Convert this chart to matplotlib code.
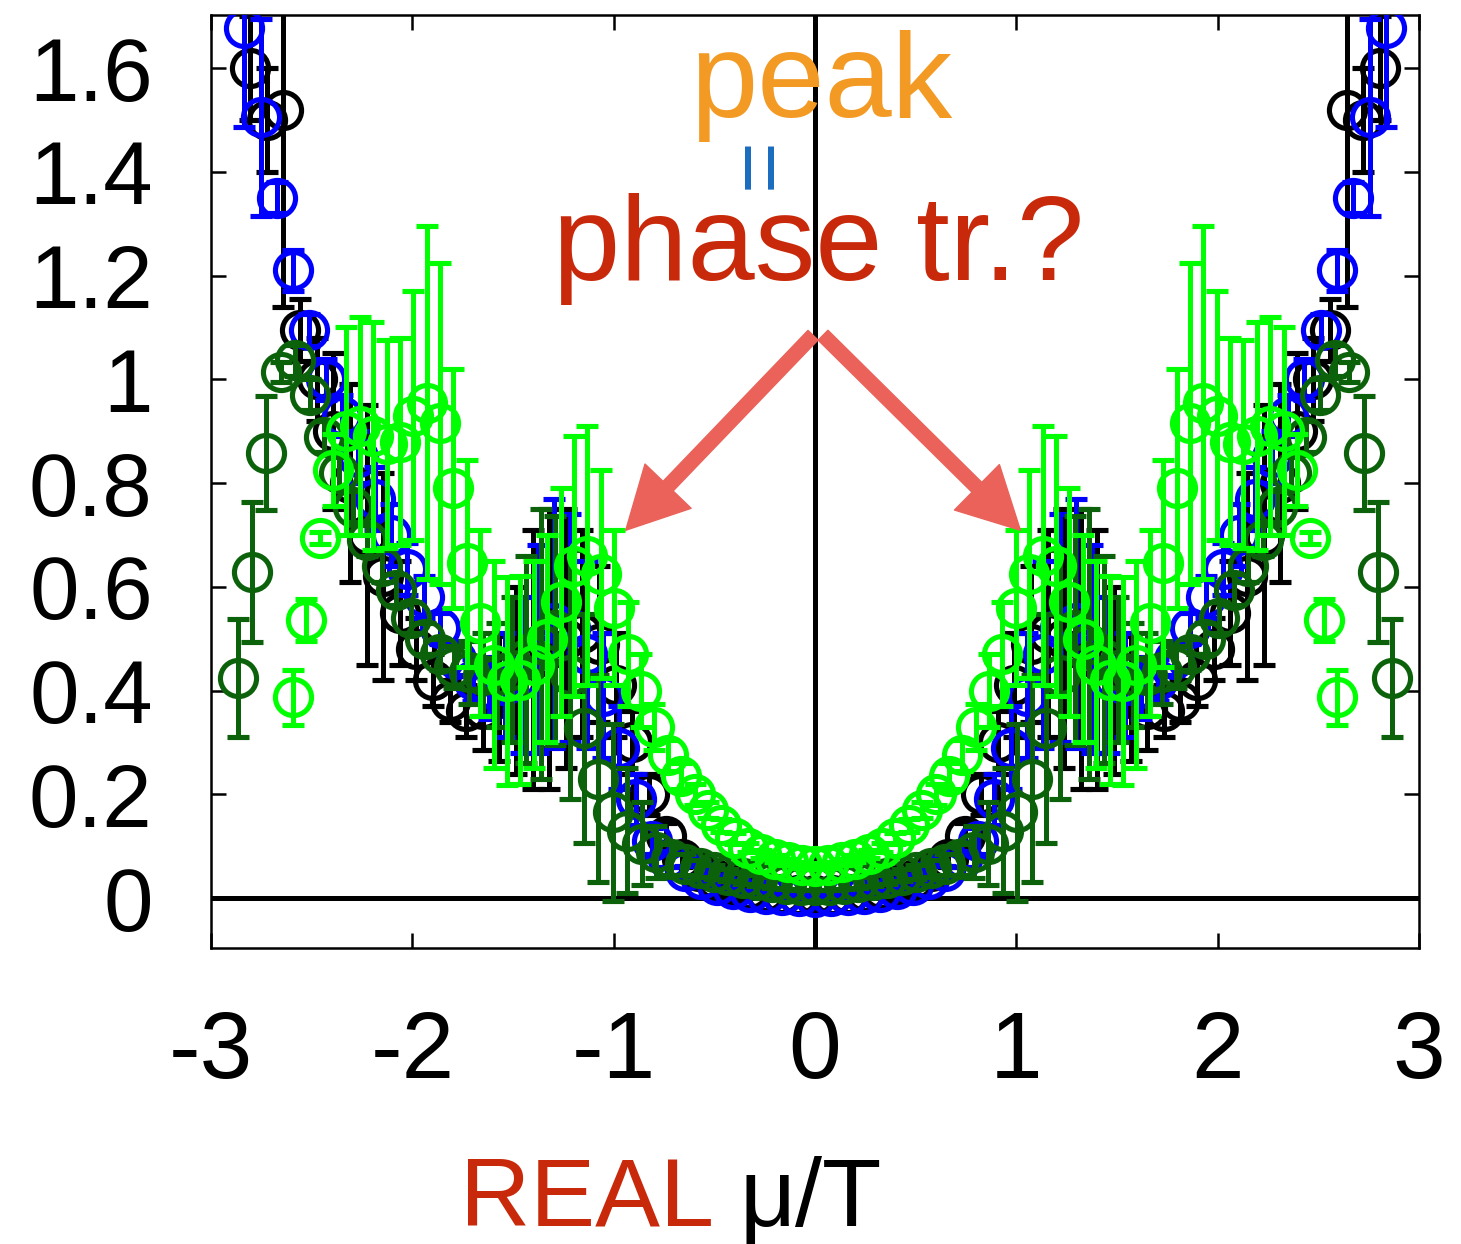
import numpy as np
import matplotlib.pyplot as plt

plt.rcParams['font.family'] = ['Liberation Sans', 'DejaVu Sans']

# mu/T grid spacing of each ensemble (positive half only, curves are even in mu)
black_step = 0.0825
blue_step = 0.081
dkgreen_step = 0.0717
green_step = 0.0665

black_y = [0.005, 0.006, 0.008, 0.012, 0.018, 0.026, 0.037, 0.052, 0.075, 0.12,
           0.20, 0.30, 0.41, 0.49, 0.51, 0.50, 0.48, 0.46, 0.42, 0.385,
           0.365, 0.36, 0.38, 0.42, 0.48, 0.55, 0.62, 0.70, 0.80, 0.90,
           1.0, 1.095, 1.52, 1.50, 1.60]
black_err = [0.004, 0.004, 0.005, 0.005, 0.006, 0.007, 0.008, 0.01, 0.015, 0.025,
             0.04, 0.06, 0.1, 0.15, 0.2, 0.25, 0.27, 0.25, 0.18, 0.12,
             0.08, 0.05, 0.04, 0.05, 0.06, 0.1, 0.2, 0.25, 0.19, 0.15,
             0.08, 0.06, 0.38, 0.1, 0.1]

blue_y = [0.002, 0.003, 0.005, 0.008, 0.012, 0.018, 0.026, 0.037, 0.052, 0.075,
          0.11, 0.19, 0.29, 0.39, 0.47, 0.52, 0.53, 0.48, 0.43, 0.41,
          0.405, 0.42, 0.46, 0.52, 0.58, 0.635, 0.70, 0.77, 0.85, 0.93,
          1.0, 1.095, 1.21, 1.35, 1.505, 1.677]
blue_err = [0.003, 0.003, 0.003, 0.004, 0.004, 0.005, 0.006, 0.008, 0.01, 0.015,
            0.025, 0.05, 0.08, 0.12, 0.18, 0.22, 0.24, 0.2, 0.15, 0.1,
            0.06, 0.04, 0.03, 0.03, 0.04, 0.05, 0.06, 0.06, 0.05, 0.04,
            0.04, 0.03, 0.04, 0.03, 0.19, 0.19]

dkgreen_y = [0.025, 0.026, 0.027, 0.03, 0.034, 0.038, 0.044, 0.05, 0.057, 0.065,
             0.075, 0.088, 0.105, 0.13, 0.165, 0.23, 0.327, 0.43, 0.516, 0.49,
             0.46, 0.44, 0.43, 0.43, 0.435, 0.445, 0.47, 0.50, 0.54, 0.594,
             0.64, 0.69, 0.754, 0.82, 0.889, 0.97, 1.037, 1.014, 0.858, 0.628,
             0.424]
dkgreen_err = [0.01, 0.01, 0.01, 0.01, 0.01, 0.01, 0.012, 0.014, 0.016, 0.02,
               0.03, 0.05, 0.08, 0.12, 0.17, 0.2, 0.22, 0.24, 0.22, 0.26,
               0.2, 0.14, 0.1, 0.08, 0.06, 0.04, 0.03, 0.03, 0.03, 0.03,
               0.03, 0.03, 0.03, 0.03, 0.03, 0.03, 0.03, 0.02, 0.11, 0.135,
               0.113]

green_y = [0.062, 0.064, 0.069, 0.076, 0.085, 0.097, 0.115, 0.14, 0.17, 0.20,
           0.235, 0.275, 0.33, 0.40, 0.47, 0.56, 0.625, 0.66, 0.64, 0.57,
           0.50, 0.45, 0.42, 0.418, 0.45, 0.53, 0.645, 0.79, 0.915, 0.955,
           0.93, 0.88, 0.875, 0.89, 0.91, 0.90, 0.825, 0.694, 0.536, 0.387]
green_err = [0.006, 0.006, 0.006, 0.007, 0.008, 0.009, 0.01, 0.012, 0.015, 0.02,
             0.025, 0.03, 0.045, 0.07, 0.1, 0.15, 0.2, 0.25, 0.25, 0.22,
             0.2, 0.2, 0.2, 0.2, 0.2, 0.18, 0.2, 0.23, 0.31, 0.34,
             0.24, 0.2, 0.2, 0.22, 0.21, 0.2, 0.07, 0.012, 0.04, 0.053]

yticks = [0, 0.2, 0.4, 0.6, 0.8, 1.0, 1.2, 1.4, 1.6]
ytick_labels = ['0', '0.2', '0.4', '0.6', '0.8', '1', '1.2', '1.4', '1.6']
xticks = [-3, -2, -1, 0, 1, 2, 3]
xtick_labels = ['-3', '-2', '-1', '0', '1', '2', '3']


def both_sides(step, y, err):
    x = np.arange(len(y)) * step
    y = np.asarray(y)
    err = np.asarray(err)
    return (np.concatenate([-x[:0:-1], x]),
            np.concatenate([y[:0:-1], y]),
            np.concatenate([err[:0:-1], err]))


fig = plt.figure(figsize=(14.61, 12.44), dpi=100)
ax = fig.add_axes([0.1444, 0.2379, 0.8269, 0.75])

ax.axhline(0, color='black', lw=3.6, zorder=1)
ax.axvline(0, color='black', lw=3.6, zorder=1)

series = [
    (black_step, black_y, black_err, 'black'),
    (blue_step, blue_y, blue_err, '#0000ff'),
    (dkgreen_step, dkgreen_y, dkgreen_err, '#0b620b'),
    (green_step, green_y, green_err, '#00ff00'),
]
for i, (step, y, err, c) in enumerate(series):
    xs, ys, es = both_sides(step, y, err)
    ax.errorbar(xs, ys, yerr=es, fmt='o', ms=26, mfc='none', mec=c, mew=3.7,
                ecolor=c, elinewidth=3.6, capsize=8, capthick=3.6, zorder=2 + i)

# arrows pointing at the two bumps
arrow = dict(arrowstyle='simple,head_length=0.44,head_width=0.46,tail_width=0.1',
             color='#ea625a', shrinkA=0, shrinkB=0, mutation_scale=100)
ax.annotate('', xy=(-0.94, 0.709), xytext=(-0.01, 1.085), arrowprops=arrow, zorder=10)
ax.annotate('', xy=(1.02, 0.709), xytext=(0.04, 1.085), arrowprops=arrow, zorder=10)

ax.set_xlim(-3, 3)
ax.set_ylim(-0.0964, 1.7022)
ax.set_xticks(xticks)
ax.set_xticklabels(xtick_labels)
ax.set_yticks(yticks)
ax.set_yticklabels(ytick_labels)
ax.tick_params(direction='in', length=11, width=1.8, top=True, right=True)
ax.tick_params(axis='x', pad=44, labelsize=68)
ax.tick_params(axis='y', pad=42, labelsize=64)
for s in ax.spines.values():
    s.set_linewidth(1.8)

fig.text(690 / 1461, 1 - 117 / 1244, 'peak', fontsize=87, color='#f39a25',
         ha='left', va='baseline')
fig.text(763 / 1461, 1 - 163 / 1244, '=', fontsize=64, color='#1a6cc0',
         rotation=90, ha='center', va='center')
fig.text(553 / 1461, 1 - 280 / 1244, 'phase tr.?', fontsize=87, color='#c9290b',
         ha='left', va='baseline')
fig.text(460 / 1461, 1 - 1226 / 1244, 'REAL', fontsize=70, color='#c9290b',
         ha='left', va='baseline')
fig.text(740 / 1461, 1 - 1226 / 1244, 'μ/T', fontsize=70, color='black',
         ha='left', va='baseline')

fig.savefig('out.png', dpi=100)
